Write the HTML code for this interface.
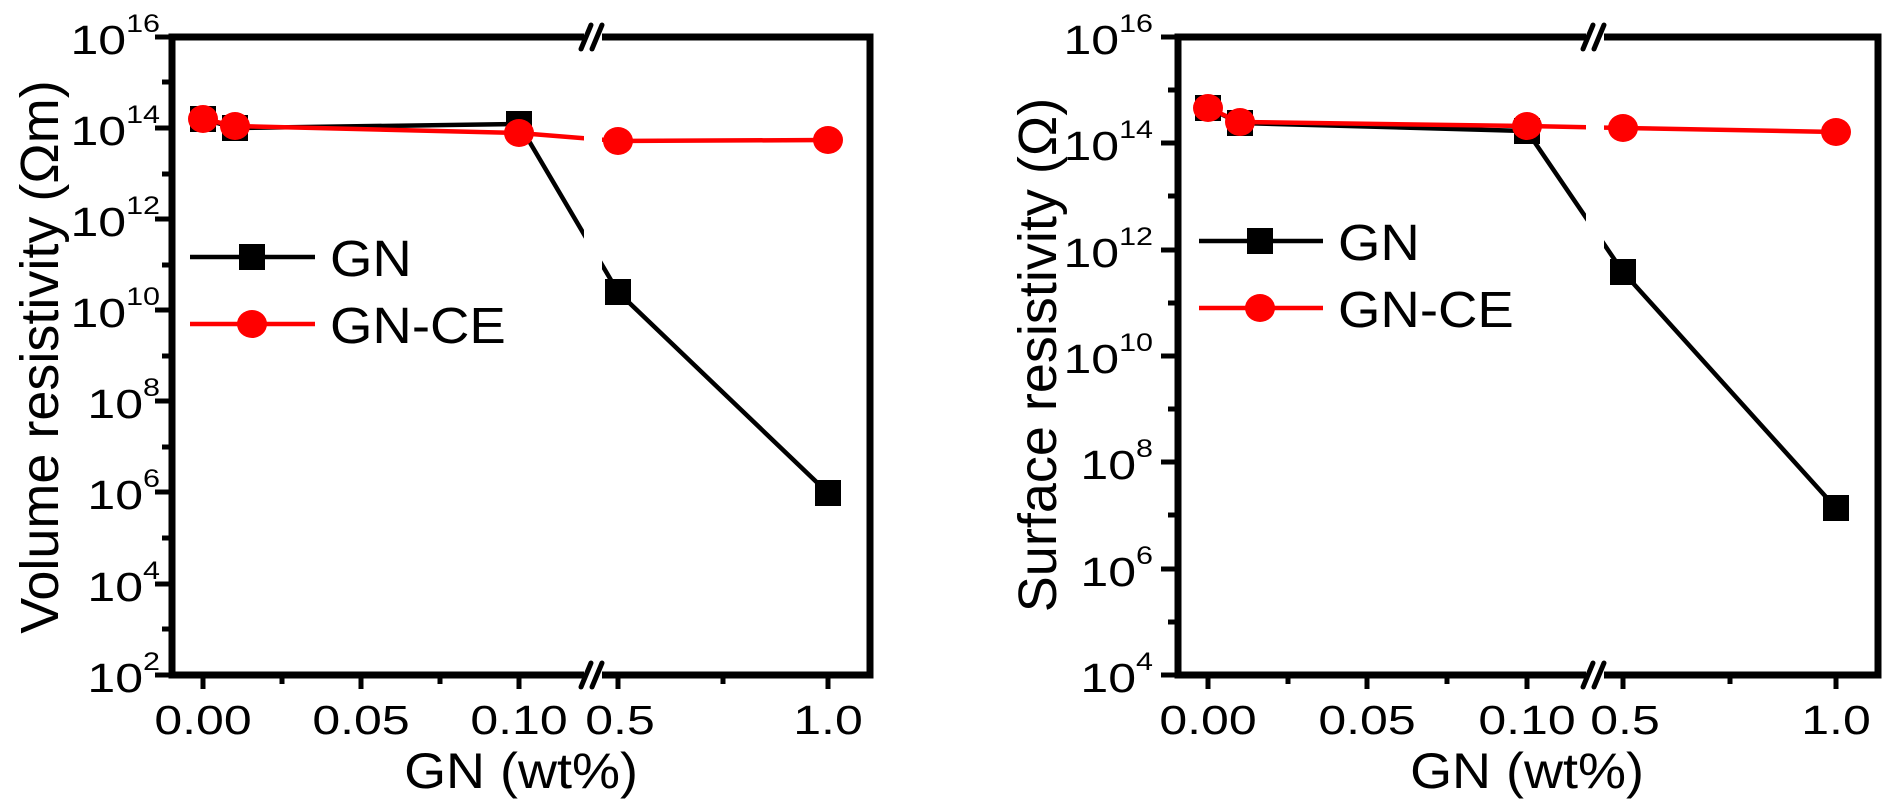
<!DOCTYPE html>
<html><head><meta charset="utf-8"><style>
html,body{margin:0;padding:0;background:#fff;}
svg{display:block;font-family:"Liberation Sans",Arial,sans-serif;}
</style></head><body>
<svg width="1891" height="805" viewBox="0 0 1891 805" xmlns="http://www.w3.org/2000/svg">
<!-- ===== LEFT PANEL ===== -->
<g>
<polyline points="203,119 235,128 519,124 618,292 828,493" fill="none" stroke="#000" stroke-width="4.5"/>
<polyline points="203,119 235,126 519,133 618,141 828,140" fill="none" stroke="#f00" stroke-width="4.5"/>
<rect x="584" y="45" width="18" height="622" fill="#fff"/>
<rect x="190" y="106" width="26" height="26" fill="#000"/>
<rect x="222" y="115" width="26" height="26" fill="#000"/>
<rect x="506" y="111" width="26" height="26" fill="#000"/>
<rect x="605" y="279" width="26" height="26" fill="#000"/>
<rect x="815" y="480" width="26" height="26" fill="#000"/>
<ellipse cx="203" cy="119" rx="15" ry="14" fill="#f00"/>
<ellipse cx="235" cy="126" rx="15" ry="14" fill="#f00"/>
<ellipse cx="519" cy="133" rx="15" ry="14" fill="#f00"/>
<ellipse cx="618" cy="141" rx="15" ry="14" fill="#f00"/>
<ellipse cx="828" cy="140" rx="15" ry="14" fill="#f00"/>
<rect x="172" y="37" width="698" height="638" fill="none" stroke="#000" stroke-width="7"/>
<g stroke="#000" stroke-width="5">
<line x1="155" y1="37" x2="172" y2="37"/><line x1="155" y1="128" x2="172" y2="128"/><line x1="155" y1="219" x2="172" y2="219"/><line x1="155" y1="310" x2="172" y2="310"/><line x1="155" y1="401" x2="172" y2="401"/><line x1="155" y1="492" x2="172" y2="492"/><line x1="155" y1="584" x2="172" y2="584"/><line x1="155" y1="675" x2="172" y2="675"/>
<line x1="162" y1="82" x2="172" y2="82"/><line x1="162" y1="174" x2="172" y2="174"/><line x1="162" y1="265" x2="172" y2="265"/><line x1="162" y1="356" x2="172" y2="356"/><line x1="162" y1="447" x2="172" y2="447"/><line x1="162" y1="538" x2="172" y2="538"/><line x1="162" y1="629" x2="172" y2="629"/>
</g>
<g stroke="#000" stroke-width="5">
<line x1="203" y1="675" x2="203" y2="689"/><line x1="282" y1="675" x2="282" y2="684"/><line x1="361" y1="675" x2="361" y2="689"/><line x1="440" y1="675" x2="440" y2="684"/><line x1="519" y1="675" x2="519" y2="689"/>
<line x1="618" y1="675" x2="618" y2="689"/><line x1="723" y1="675" x2="723" y2="684"/><line x1="828" y1="675" x2="828" y2="689"/>
</g>
<rect x="584" y="26" width="18" height="20" fill="#fff"/>
<rect x="584" y="664" width="18" height="22" fill="#fff"/>
<g stroke="#000" stroke-width="5" stroke-linecap="round">
<line x1="581" y1="49" x2="591" y2="25"/><line x1="592" y1="49" x2="602" y2="25"/>
<line x1="581" y1="687" x2="591" y2="663"/><line x1="592" y1="687" x2="602" y2="663"/>
</g>
<g font-size="41" text-anchor="end" fill="#000">
<text transform="translate(160,54) scale(1.22,1)">10<tspan font-size="25" dy="-22">16</tspan></text>
<text transform="translate(160,145) scale(1.22,1)">10<tspan font-size="25" dy="-22">14</tspan></text>
<text transform="translate(160,236) scale(1.22,1)">10<tspan font-size="25" dy="-22">12</tspan></text>
<text transform="translate(160,327) scale(1.22,1)">10<tspan font-size="25" dy="-22">10</tspan></text>
<text transform="translate(160,418) scale(1.22,1)">10<tspan font-size="25" dy="-22">8</tspan></text>
<text transform="translate(160,509) scale(1.22,1)">10<tspan font-size="25" dy="-22">6</tspan></text>
<text transform="translate(160,601) scale(1.22,1)">10<tspan font-size="25" dy="-22">4</tspan></text>
<text transform="translate(160,692) scale(1.22,1)">10<tspan font-size="25" dy="-22">2</tspan></text>
</g>
<g font-size="41" text-anchor="middle" fill="#000">
<text transform="translate(203,734) scale(1.22,1)">0.00</text>
<text transform="translate(361,734) scale(1.22,1)">0.05</text>
<text transform="translate(519,734) scale(1.22,1)">0.10</text>
<text transform="translate(620,734) scale(1.22,1)">0.5</text>
<text transform="translate(828,734) scale(1.22,1)">1.0</text>
</g>
<text transform="translate(521,788) scale(1.08,1)" font-size="50" text-anchor="middle">GN (wt%)</text>
<text transform="translate(58,357) rotate(-90)" font-size="54" text-anchor="middle">Volume resistivity (Ωm)</text>
<line x1="190" y1="257" x2="315" y2="257" stroke="#000" stroke-width="4.5"/>
<rect x="239" y="244" width="26" height="26" fill="#000"/>
<text transform="translate(330,276) scale(1.07,1)" font-size="51">GN</text>
<line x1="190" y1="324" x2="315" y2="324" stroke="#f00" stroke-width="4.5"/>
<ellipse cx="252" cy="324" rx="15" ry="14" fill="#f00"/>
<text transform="translate(330,343) scale(1.07,1)" font-size="51">GN-CE</text>
</g>

<!-- ===== RIGHT PANEL ===== -->
<g>
<polyline points="1208,108 1240,123 1527,131 1623,272 1836,508" fill="none" stroke="#000" stroke-width="4.5"/>
<polyline points="1208,108 1240,122 1527,126 1623,128 1836,132" fill="none" stroke="#f00" stroke-width="4.5"/>
<rect x="1586" y="45" width="18" height="622" fill="#fff"/>
<rect x="1195" y="95" width="26" height="26" fill="#000"/>
<rect x="1227" y="110" width="26" height="26" fill="#000"/>
<rect x="1514" y="118" width="26" height="26" fill="#000"/>
<rect x="1610" y="259" width="26" height="26" fill="#000"/>
<rect x="1823" y="495" width="26" height="26" fill="#000"/>
<ellipse cx="1208" cy="108" rx="15" ry="14" fill="#f00"/>
<ellipse cx="1240" cy="122" rx="15" ry="14" fill="#f00"/>
<ellipse cx="1527" cy="126" rx="15" ry="14" fill="#f00"/>
<ellipse cx="1623" cy="128" rx="15" ry="14" fill="#f00"/>
<ellipse cx="1836" cy="132" rx="15" ry="14" fill="#f00"/>
<rect x="1178" y="37" width="700" height="638" fill="none" stroke="#000" stroke-width="7"/>
<g stroke="#000" stroke-width="5">
<line x1="1161" y1="37" x2="1178" y2="37"/><line x1="1161" y1="143" x2="1178" y2="143"/><line x1="1161" y1="250" x2="1178" y2="250"/><line x1="1161" y1="356" x2="1178" y2="356"/><line x1="1161" y1="462" x2="1178" y2="462"/><line x1="1161" y1="569" x2="1178" y2="569"/><line x1="1161" y1="675" x2="1178" y2="675"/>
<line x1="1168" y1="90" x2="1178" y2="90"/><line x1="1168" y1="196" x2="1178" y2="196"/><line x1="1168" y1="303" x2="1178" y2="303"/><line x1="1168" y1="409" x2="1178" y2="409"/><line x1="1168" y1="515" x2="1178" y2="515"/><line x1="1168" y1="622" x2="1178" y2="622"/>
</g>
<g stroke="#000" stroke-width="5">
<line x1="1208" y1="675" x2="1208" y2="689"/><line x1="1288" y1="675" x2="1288" y2="684"/><line x1="1367" y1="675" x2="1367" y2="689"/><line x1="1447" y1="675" x2="1447" y2="684"/><line x1="1527" y1="675" x2="1527" y2="689"/>
<line x1="1623" y1="675" x2="1623" y2="689"/><line x1="1730" y1="675" x2="1730" y2="684"/><line x1="1836" y1="675" x2="1836" y2="689"/>
</g>
<rect x="1586" y="26" width="18" height="20" fill="#fff"/>
<rect x="1586" y="664" width="18" height="22" fill="#fff"/>
<g stroke="#000" stroke-width="5" stroke-linecap="round">
<line x1="1583" y1="49" x2="1593" y2="25"/><line x1="1594" y1="49" x2="1604" y2="25"/>
<line x1="1583" y1="687" x2="1593" y2="663"/><line x1="1594" y1="687" x2="1604" y2="663"/>
</g>
<g font-size="41" text-anchor="end" fill="#000">
<text transform="translate(1153,54) scale(1.22,1)">10<tspan font-size="25" dy="-22">16</tspan></text>
<text transform="translate(1153,160) scale(1.22,1)">10<tspan font-size="25" dy="-22">14</tspan></text>
<text transform="translate(1153,267) scale(1.22,1)">10<tspan font-size="25" dy="-22">12</tspan></text>
<text transform="translate(1153,373) scale(1.22,1)">10<tspan font-size="25" dy="-22">10</tspan></text>
<text transform="translate(1153,479) scale(1.22,1)">10<tspan font-size="25" dy="-22">8</tspan></text>
<text transform="translate(1153,586) scale(1.22,1)">10<tspan font-size="25" dy="-22">6</tspan></text>
<text transform="translate(1153,692) scale(1.22,1)">10<tspan font-size="25" dy="-22">4</tspan></text>
</g>
<g font-size="41" text-anchor="middle" fill="#000">
<text transform="translate(1208,734) scale(1.22,1)">0.00</text>
<text transform="translate(1367,734) scale(1.22,1)">0.05</text>
<text transform="translate(1527,734) scale(1.22,1)">0.10</text>
<text transform="translate(1625,734) scale(1.22,1)">0.5</text>
<text transform="translate(1836,734) scale(1.22,1)">1.0</text>
</g>
<text transform="translate(1527,788) scale(1.08,1)" font-size="50" text-anchor="middle">GN (wt%)</text>
<text transform="translate(1056,355) rotate(-90)" font-size="54" text-anchor="middle">Surface resistivity (Ω)</text>
<line x1="1199" y1="241" x2="1323" y2="241" stroke="#000" stroke-width="4.5"/>
<rect x="1247" y="228" width="26" height="26" fill="#000"/>
<text transform="translate(1338,260) scale(1.07,1)" font-size="51">GN</text>
<line x1="1199" y1="308" x2="1323" y2="308" stroke="#f00" stroke-width="4.5"/>
<ellipse cx="1260" cy="308" rx="15" ry="14" fill="#f00"/>
<text transform="translate(1338,327) scale(1.07,1)" font-size="51">GN-CE</text>
</g>
</svg>
</body></html>
